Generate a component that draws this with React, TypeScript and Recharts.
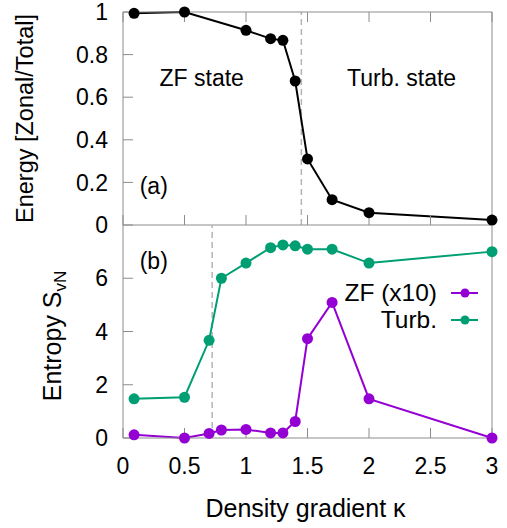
import { Legend, Line, LineChart, ReferenceDot, ReferenceLine, XAxis, YAxis } from "recharts";

const FONT = '"Liberation Sans", Arial, Helvetica, sans-serif';
const FRAME = "#8c8c8c";
const DASH = "#b4b4b4";
const ZF_COLOR = "#9400d3";
const TURB_COLOR = "#009e73";
const FS = 23;

// panel (a): zonal energy fraction
const kappaA = [0.09, 0.5, 1.0, 1.2, 1.3, 1.4, 1.5, 1.7, 2.0, 3.0];
const zonalFraction = [0.994, 1.0, 0.914, 0.875, 0.867, 0.676, 0.31, 0.119, 0.058, 0.023];

// panel (b): von Neumann entropy
const kappaB = [0.09, 0.5, 0.7, 0.8, 1.0, 1.2, 1.3, 1.4, 1.5, 1.7, 2.0, 3.0];
const entropyZF = [0.12, 0.0, 0.17, 0.3, 0.32, 0.19, 0.19, 0.62, 3.73, 5.09, 1.47, 0.0];
const entropyTurb = [1.47, 1.53, 3.67, 6.0, 6.57, 7.15, 7.25, 7.22, 7.09, 7.09, 6.57, 7.0];

const kappaTicks = [0, 0.5, 1, 1.5, 2, 2.5, 3];
const energyTicks = [0, 0.2, 0.4, 0.6, 0.8, 1];
const entropyTicks = [0, 2, 4, 6];
const transitionA = 1.45;
const transitionB = 0.725;

const legendItems = [
  { name: "ZF (x10)", color: ZF_COLOR },
  { name: "Turb.", color: TURB_COLOR },
];

const dataA = kappaA.map((k, i) => ({ kappa: k, energy: zonalFraction[i] }));
const dataB = kappaB.map((k, i) => ({ kappa: k, zf: entropyZF[i], turb: entropyTurb[i] }));

const tickStyle = { fill: "#000", fontSize: FS };
const blank = () => "";

function EnergyTitle({ viewBox }: any) {
  const vb = viewBox ?? { x: 0, y: 12, width: 123, height: 213 };
  const x = 33;
  const y = vb.y + vb.height / 2;
  return (
    <text x={x} y={y} transform={`rotate(-90 ${x} ${y})`} textAnchor="middle" fontSize={23.5} fill="#000">
      Energy [Zonal/Total]
    </text>
  );
}

function EntropyTitle({ viewBox }: any) {
  const vb = viewBox ?? { x: 0, y: 13, width: 123, height: 213 };
  const x = 61;
  const y = vb.y + vb.height / 2 + 4.5;
  return (
    <text x={x} y={y} transform={`rotate(-90 ${x} ${y})`} textAnchor="middle" fontSize={25} fill="#000">
      Entropy S
      <tspan fontSize={17} dy={5}>
        vN
      </tspan>
    </text>
  );
}

function KappaTitle({ viewBox }: any) {
  const vb = viewBox ?? { x: 123, y: 226, width: 369, height: 90 };
  return (
    <text x={vb.x + vb.width / 2 - 2} y={vb.y + 79} textAnchor="middle" fontSize={25} fill="#000">
      Density gradient κ
    </text>
  );
}

function SeriesKey() {
  return (
    <div style={{ fontSize: 24.5, color: "#000", fontFamily: FONT }}>
      {legendItems.map((item) => (
        <div
          key={item.name}
          style={{ display: "flex", justifyContent: "flex-end", alignItems: "center", height: 27 }}
        >
          <span>{item.name}</span>
          <svg width={43} height={12}>
            <line x1={14} x2={41} y1={6} y2={6} stroke={item.color} strokeWidth={2} />
            <circle cx={28} cy={6} r={4.5} fill={item.color} />
          </svg>
        </div>
      ))}
    </div>
  );
}

function TextMark({ x, y, text, yAxisId, xAxisId }: any) {
  return (
    <ReferenceDot
      x={x}
      y={y}
      xAxisId={xAxisId}
      yAxisId={yAxisId}
      r={0}
      fill="none"
      stroke="none"
      label={{ value: text, position: "center", fontSize: FS, fill: "#000" }}
    />
  );
}

export default function App() {
  return (
    <div
      style={{
        position: "absolute",
        left: 0,
        top: 0,
        width: 507,
        height: 528,
        background: "#fff",
        fontFamily: FONT,
      }}
    >
      <div style={{ position: "absolute", left: 0, top: 0 }}>
        <LineChart width={507} height={240} data={dataA} margin={{ top: 0, right: 0, bottom: 0, left: 0 }}>
          <XAxis
            xAxisId="b"
            dataKey="kappa"
            type="number"
            domain={[0, 3]}
            ticks={kappaTicks}
            interval={0}
            height={15}
            stroke={FRAME}
            tickSize={-10}
            tickFormatter={blank}
          />
          <XAxis
            xAxisId="t"
            orientation="top"
            dataKey="kappa"
            type="number"
            domain={[0, 3]}
            ticks={kappaTicks}
            interval={0}
            height={12}
            stroke={FRAME}
            tickSize={-10}
            tickFormatter={blank}
          />
          <YAxis
            yAxisId="l"
            type="number"
            domain={[0, 1]}
            ticks={energyTicks}
            interval={0}
            width={123}
            stroke={FRAME}
            tickSize={-10}
            tickMargin={25}
            tick={tickStyle}
            label={(p: any) => <EnergyTitle {...p} />}
          />
          <YAxis
            yAxisId="r"
            orientation="right"
            type="number"
            domain={[0, 1]}
            ticks={energyTicks}
            interval={0}
            width={15}
            stroke={FRAME}
            tickSize={-10}
            tickFormatter={blank}
          />
          <ReferenceLine
            x={transitionA}
            xAxisId="b"
            yAxisId="l"
            stroke={DASH}
            strokeWidth={1.5}
            strokeDasharray="6 4"
          />
          {TextMark({ x: 0.64, y: 0.69, text: "ZF state", xAxisId: "b", yAxisId: "l" })}
          {TextMark({ x: 2.265, y: 0.69, text: "Turb. state", xAxisId: "b", yAxisId: "l" })}
          {TextMark({ x: 0.25, y: 0.185, text: "(a)", xAxisId: "b", yAxisId: "l" })}
          <Line
            xAxisId="b"
            yAxisId="l"
            dataKey="energy"
            stroke="#000"
            strokeWidth={2}
            dot={{ r: 5.5, fill: "#000", stroke: "#000", strokeWidth: 0 }}
            isAnimationActive={false}
          />
        </LineChart>
      </div>
      <div style={{ position: "absolute", left: 0, top: 212 }}>
        <LineChart width={507} height={316} data={dataB} margin={{ top: 13, right: 0, bottom: 0, left: 0 }}>
          <XAxis
            xAxisId="b"
            dataKey="kappa"
            type="number"
            domain={[0, 3]}
            ticks={kappaTicks}
            interval={0}
            height={90}
            stroke={FRAME}
            tickSize={-10}
            tickMargin={30}
            tick={tickStyle}
            label={(p: any) => <KappaTitle {...p} />}
          />
          <YAxis
            yAxisId="l"
            type="number"
            domain={[0, 8]}
            ticks={entropyTicks}
            interval={0}
            width={123}
            stroke={FRAME}
            tickSize={-10}
            tickMargin={25}
            tick={tickStyle}
            label={(p: any) => <EntropyTitle {...p} />}
          />
          <YAxis
            yAxisId="r"
            orientation="right"
            type="number"
            domain={[0, 8]}
            ticks={entropyTicks}
            interval={0}
            width={15}
            stroke={FRAME}
            tickSize={-10}
            tickFormatter={blank}
          />
          <ReferenceLine
            x={transitionB}
            xAxisId="b"
            yAxisId="l"
            stroke={DASH}
            strokeWidth={1.5}
            strokeDasharray="6 4"
          />
          {TextMark({ x: 0.25, y: 6.65, text: "(b)", xAxisId: "b", yAxisId: "l" })}
          <Legend
            layout="vertical"
            align="center"
            verticalAlign="middle"
            content={() => <SeriesKey />}
            wrapperStyle={{ left: 280, top: 67, width: 200 }}
          />
          <Line
            xAxisId="b"
            yAxisId="l"
            dataKey="turb"
            name="Turb."
            stroke={TURB_COLOR}
            strokeWidth={2}
            dot={{ r: 5.5, fill: TURB_COLOR, stroke: TURB_COLOR, strokeWidth: 0 }}
            isAnimationActive={false}
          />
          <Line
            xAxisId="b"
            yAxisId="l"
            dataKey="zf"
            name="ZF (x10)"
            stroke={ZF_COLOR}
            strokeWidth={2}
            dot={{ r: 5.5, fill: ZF_COLOR, stroke: ZF_COLOR, strokeWidth: 0 }}
            isAnimationActive={false}
          />
        </LineChart>
      </div>
    </div>
  );
}
